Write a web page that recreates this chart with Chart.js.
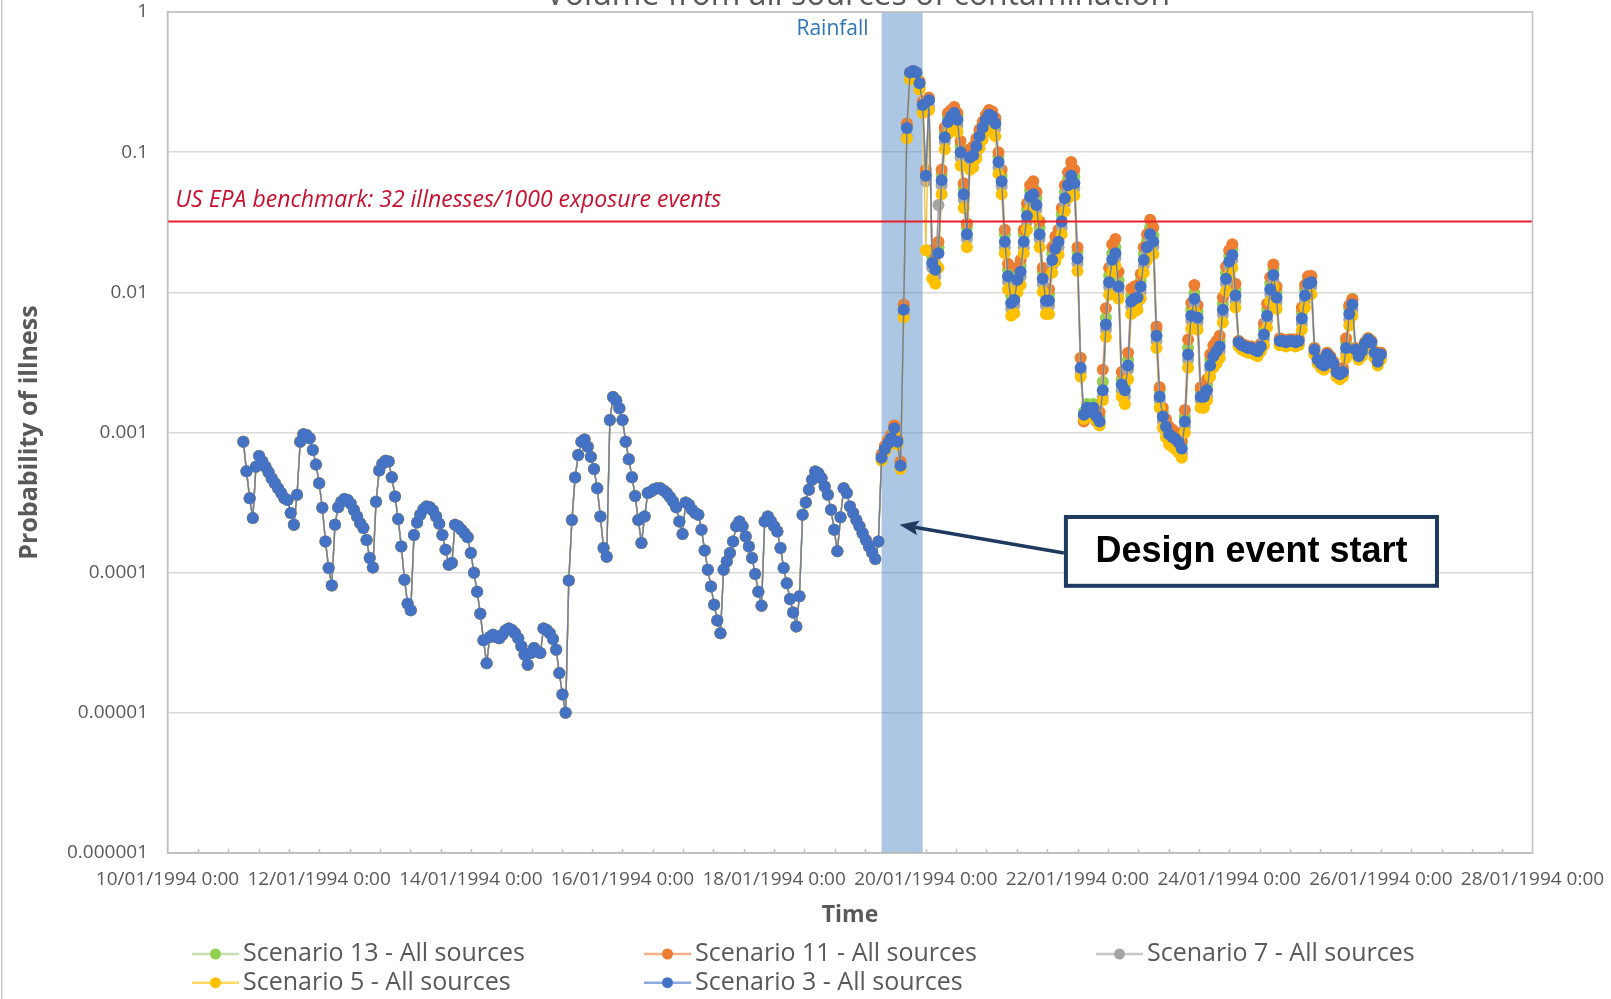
<!DOCTYPE html>
<html>
<head>
<meta charset="utf-8">
<title>Probability of illness – all sources of contamination</title>
<script src="https://cdn.jsdelivr.net/npm/chart.js@4.4.1/dist/chart.umd.min.js"></script>
<style>
  html, body { margin: 0; padding: 0; background: #ffffff; }
  #wrap { position: relative; width: 1611px; height: 999px; overflow: hidden; }
  canvas { display: block; }
</style>
</head>
<body>
<div id="wrap"><canvas id="chart" width="1611" height="999"></canvas></div>
<script>
// ---------------------------------------------------------------------------
// Chart text
// ---------------------------------------------------------------------------
const chartTitle = 'Volume from all sources of contamination';
const xAxisTitle = 'Time';
const yAxisTitle = 'Probability of illness';
const seriesLabels = [
  'Scenario 13 - All sources',
  'Scenario 11 - All sources',
  'Scenario 7 - All sources',
  'Scenario 5 - All sources',
  'Scenario 3 - All sources'
];
const xTickLabels = [
  '10/01/1994 0:00', '12/01/1994 0:00', '14/01/1994 0:00', '16/01/1994 0:00',
  '18/01/1994 0:00', '20/01/1994 0:00', '22/01/1994 0:00', '24/01/1994 0:00',
  '26/01/1994 0:00', '28/01/1994 0:00'
];
const yTickValues = [0.000001, 0.00001, 0.0001, 0.001, 0.01, 0.1, 1];
const yTickLabels = ['0.000001', '0.00001', '0.0001', '0.001', '0.01', '0.1', '1'];

// ---------------------------------------------------------------------------
// Hourly probability of illness. Hour 0 = 10/01/1994 0:00.
// Before the design event every scenario gives the same series.
// ---------------------------------------------------------------------------
const firstReadingHour = 24;

// hours 24 .. 225
const beforeEvent = [
  8.6e-4, 5.3e-4, 3.4e-4, 2.45e-4, 5.7e-4, 6.8e-4,
  6.2e-4, 5.7e-4, 5.2e-4, 4.7e-4, 4.35e-4, 4.0e-4, 3.7e-4, 3.4e-4, 3.3e-4, 2.66e-4,
  2.2e-4, 3.6e-4, 8.6e-4, 9.7e-4, 9.6e-4, 9.1e-4, 7.5e-4, 5.9e-4, 4.35e-4, 2.9e-4,
  1.67e-4, 1.08e-4, 8.1e-5, 2.2e-4, 2.93e-4, 3.2e-4, 3.35e-4, 3.3e-4, 3.1e-4, 2.8e-4,
  2.52e-4, 2.25e-4, 2.08e-4, 1.71e-4, 1.27e-4, 1.09e-4, 3.2e-4, 5.35e-4, 5.98e-4, 6.3e-4,
  6.2e-4, 4.8e-4, 3.5e-4, 2.41e-4, 1.54e-4, 8.9e-5, 6.0e-5, 5.4e-5, 1.86e-4, 2.28e-4,
  2.59e-4, 2.84e-4, 2.97e-4, 2.93e-4, 2.78e-4, 2.52e-4, 2.23e-4, 1.86e-4, 1.46e-4, 1.14e-4,
  1.17e-4, 2.2e-4, 2.14e-4, 2.02e-4, 1.91e-4, 1.79e-4, 1.38e-4, 1.0e-4, 7.3e-5, 5.1e-5,
  3.3e-5, 2.26e-5, 3.47e-5, 3.6e-5, 3.47e-5, 3.4e-5, 3.6e-5, 3.87e-5, 4.0e-5, 3.9e-5,
  3.7e-5, 3.4e-5, 2.98e-5, 2.6e-5, 2.2e-5, 2.67e-5, 2.9e-5, 2.74e-5, 2.67e-5, 4.0e-5,
  3.9e-5, 3.7e-5, 3.36e-5, 2.82e-5, 1.92e-5, 1.35e-5, 1.0e-5, 8.8e-5, 2.38e-4, 4.78e-4,
  6.9e-4, 8.6e-4, 8.9e-4, 7.9e-4, 6.7e-4, 5.5e-4, 4.0e-4, 2.52e-4, 1.5e-4, 1.3e-4,
  1.23e-3, 1.79e-3, 1.69e-3, 1.49e-3, 1.23e-3, 8.6e-4, 6.45e-4, 4.8e-4, 3.53e-4, 2.38e-4,
  1.63e-4, 2.52e-4, 3.7e-4, 3.8e-4, 3.94e-4, 4.0e-4, 4.0e-4, 3.86e-4, 3.7e-4, 3.46e-4,
  3.22e-4, 2.93e-4, 2.32e-4, 1.89e-4, 3.17e-4, 3.05e-4, 2.81e-4, 2.66e-4, 2.59e-4, 2.02e-4,
  1.44e-4, 1.05e-4, 7.97e-5, 5.9e-5, 4.56e-5, 3.7e-5, 1.05e-4, 1.2e-4, 1.38e-4, 1.67e-4,
  2.14e-4, 2.32e-4, 2.14e-4, 1.81e-4, 1.54e-4, 1.27e-4, 9.8e-5, 7.3e-5, 5.8e-5, 2.32e-4,
  2.52e-4, 2.32e-4, 2.14e-4, 1.97e-4, 1.5e-4, 1.08e-4, 8.4e-5, 6.5e-5, 5.2e-5, 4.13e-5,
  6.8e-5, 2.59e-4, 3.17e-4, 3.9e-4, 4.6e-4, 5.27e-4, 5.13e-4, 4.72e-4, 4.12e-4, 3.59e-4,
  2.81e-4, 2.02e-4, 1.42e-4, 2.49e-4, 4.0e-4, 3.7e-4, 2.97e-4, 2.66e-4, 2.38e-4, 2.14e-4,
  1.91e-4, 1.71e-4, 1.54e-4, 1.39e-4, 1.25e-4, 1.67e-4
];

// hours 226 .. 384, one array per scenario
const afterScenario13 = [
  6.8e-4, 7.8e-4, 8.5e-4, 9.4e-4, 1.1e-3, 8.8e-4, 6.0e-4, 7.9e-3, 0.155, 0.36,
  0.37, 0.36, 0.31, 0.22, 0.07, 0.235, 0.018, 0.016, 0.021, 0.069,
  0.14, 0.178, 0.195, 0.205, 0.18, 0.11, 0.055, 0.029, 0.1, 0.104,
  0.12, 0.14, 0.16, 0.18, 0.195, 0.19, 0.17, 0.093, 0.068, 0.026,
  0.0145, 0.0095, 0.0098, 0.0136, 0.0155, 0.026, 0.039, 0.053, 0.056, 0.047,
  0.029, 0.014, 0.0097, 0.0097, 0.019, 0.0228, 0.0255, 0.036, 0.052, 0.065,
  0.076, 0.067, 0.0195, 0.0034, 0.0014, 0.0016, 0.0015, 0.0016, 0.0014, 0.0013,
  0.0023, 0.0066, 0.0132, 0.019, 0.021, 0.0122, 0.0024, 0.0022, 0.0033, 0.0095,
  0.0099, 0.0101, 0.0121, 0.0188, 0.0232, 0.029, 0.0255, 0.0054, 0.002, 0.0014,
  0.0012, 0.00106, 0.00102, 0.00098, 0.00093, 0.00084, 0.0013, 0.004, 0.0075, 0.0099,
  0.0073, 0.002, 0.002, 0.0022, 0.0033, 0.0039, 0.0042, 0.0045, 0.0083, 0.0138,
  0.0182, 0.0203, 0.0105, 0.0045, 0.0043, 0.0042, 0.0041, 0.0041, 0.004, 0.0039,
  0.0042, 0.0055, 0.0075, 0.0116, 0.0146, 0.0101, 0.0046, 0.0046, 0.0045, 0.0046,
  0.0046, 0.0045, 0.0046, 0.0072, 0.0105, 0.0126, 0.013, 0.004, 0.0034, 0.0032,
  0.0031, 0.0037, 0.0035, 0.0032, 0.0028, 0.0027, 0.0028, 0.0044, 0.0077, 0.009,
  0.004, 0.0036, 0.0039, 0.0044, 0.0047, 0.0045, 0.0038, 0.0033, 0.0037
];
const afterScenario11 = [
  7.0e-4, 8.0e-4, 8.8e-4, 9.6e-4, 1.12e-3, 9.0e-4, 6.2e-4, 8.2e-3, 0.16, 0.37,
  0.38, 0.37, 0.32, 0.23, 0.075, 0.245, 0.02, 0.018, 0.023, 0.075,
  0.15, 0.19, 0.2, 0.21, 0.19, 0.12, 0.06, 0.031, 0.105, 0.11,
  0.125, 0.145, 0.165, 0.185, 0.2, 0.195, 0.175, 0.1, 0.075, 0.028,
  0.016, 0.0102, 0.0106, 0.015, 0.017, 0.028, 0.043, 0.058, 0.062, 0.052,
  0.032, 0.015, 0.0105, 0.0105, 0.021, 0.025, 0.028, 0.04, 0.058, 0.072,
  0.085, 0.075, 0.021, 0.0034, 0.0012, 0.0014, 0.0013, 0.0014, 0.0012, 0.0014,
  0.0028, 0.0077, 0.015, 0.022, 0.024, 0.014, 0.0027, 0.0025, 0.0037, 0.0106,
  0.011, 0.0112, 0.0135, 0.021, 0.026, 0.033, 0.029, 0.0057, 0.0021, 0.0015,
  0.00125, 0.0011, 0.00105, 0.001, 0.00095, 0.00088, 0.00145, 0.0046, 0.0084, 0.0113,
  0.0081, 0.0021, 0.0021, 0.0024, 0.0036, 0.0042, 0.0045, 0.0049, 0.0092, 0.0152,
  0.02, 0.022, 0.0115, 0.0045, 0.0043, 0.0042, 0.0041, 0.0041, 0.004, 0.0039,
  0.0043, 0.006, 0.0083, 0.0128, 0.0158, 0.011, 0.0047, 0.0046, 0.0045, 0.0046,
  0.0046, 0.0045, 0.0047, 0.0078, 0.0113, 0.013, 0.0131, 0.004, 0.0034, 0.0032,
  0.0031, 0.0037, 0.0035, 0.0032, 0.0028, 0.0027, 0.0029, 0.0047, 0.0081, 0.0089,
  0.004, 0.0036, 0.0039, 0.0044, 0.0047, 0.0045, 0.0038, 0.0033, 0.0037
];
const afterScenario7 = [
  6.5e-4, 7.5e-4, 8.2e-4, 9.0e-4, 1.05e-3, 8.5e-4, 5.7e-4, 7.0e-3, 0.13, 0.33,
  0.34, 0.34, 0.29, 0.2, 0.062, 0.21, 0.015, 0.013, 0.042, 0.058,
  0.118, 0.15, 0.165, 0.175, 0.155, 0.092, 0.046, 0.024, 0.085, 0.087,
  0.1, 0.12, 0.138, 0.157, 0.17, 0.165, 0.147, 0.078, 0.057, 0.021,
  0.012, 0.0077, 0.0081, 0.0113, 0.0129, 0.021, 0.032, 0.044, 0.046, 0.039,
  0.024, 0.0115, 0.008, 0.008, 0.0156, 0.0189, 0.021, 0.029, 0.043, 0.053,
  0.063, 0.055, 0.0161, 0.0027, 0.0013, 0.00145, 0.00135, 0.00145, 0.00126, 0.00116,
  0.0018, 0.0054, 0.0109, 0.0157, 0.0175, 0.0101, 0.002, 0.0018, 0.0028, 0.0079,
  0.0083, 0.0085, 0.0101, 0.0156, 0.0193, 0.024, 0.0212, 0.0045, 0.0017, 0.0012,
  0.00101, 0.00089, 0.00086, 0.00083, 0.00078, 0.00071, 0.0011, 0.0033, 0.0063, 0.0083,
  0.0061, 0.0017, 0.0017, 0.0018, 0.0028, 0.0032, 0.0035, 0.0038, 0.0069, 0.0115,
  0.0152, 0.017, 0.0087, 0.0042, 0.004, 0.0039, 0.0038, 0.0038, 0.0037, 0.0036,
  0.0039, 0.0046, 0.0063, 0.0097, 0.0122, 0.0085, 0.0043, 0.0043, 0.0042, 0.0043,
  0.0043, 0.0042, 0.0043, 0.006, 0.0087, 0.0106, 0.0109, 0.0037, 0.0032, 0.003,
  0.0029, 0.0034, 0.0032, 0.003, 0.0026, 0.0025, 0.0026, 0.0037, 0.0064, 0.0075,
  0.0037, 0.0034, 0.0036, 0.0041, 0.0044, 0.0042, 0.0036, 0.0031, 0.0035
];
const afterScenario5 = [
  6.3e-4, 7.3e-4, 8.0e-4, 8.7e-4, 1.02e-3, 8.2e-4, 5.5e-4, 6.6e-3, 0.125, 0.33,
  0.35, 0.34, 0.28, 0.19, 0.02, 0.2, 0.0125, 0.0115, 0.015, 0.05,
  0.105, 0.135, 0.15, 0.16, 0.14, 0.08, 0.04, 0.021, 0.075, 0.078,
  0.09, 0.107, 0.123, 0.14, 0.155, 0.15, 0.13, 0.07, 0.05, 0.019,
  0.0105, 0.0068, 0.0071, 0.01, 0.0113, 0.019, 0.028, 0.039, 0.041, 0.034,
  0.021, 0.0101, 0.007, 0.007, 0.0138, 0.0166, 0.0186, 0.026, 0.038, 0.047,
  0.055, 0.049, 0.0142, 0.0025, 0.00125, 0.0014, 0.0013, 0.0014, 0.00122, 0.00112,
  0.0017, 0.0048, 0.0096, 0.0139, 0.0155, 0.009, 0.0018, 0.0016, 0.0024, 0.007,
  0.0073, 0.0075, 0.009, 0.0138, 0.017, 0.021, 0.0187, 0.004, 0.0015, 0.00108,
  0.00092, 0.00082, 0.00079, 0.00076, 0.00072, 0.00066, 0.001, 0.0029, 0.0055, 0.0073,
  0.0054, 0.0015, 0.0015, 0.0017, 0.0025, 0.0029, 0.0031, 0.0034, 0.0061, 0.0102,
  0.0134, 0.015, 0.0078, 0.0041, 0.0039, 0.0038, 0.0037, 0.0037, 0.0036, 0.0035,
  0.0038, 0.0042, 0.0056, 0.0086, 0.0109, 0.0076, 0.0042, 0.0042, 0.0041, 0.0042,
  0.0042, 0.0041, 0.0042, 0.0054, 0.0078, 0.0094, 0.0097, 0.0036, 0.0031, 0.0029,
  0.0028, 0.0033, 0.0031, 0.0029, 0.0025, 0.0024, 0.0025, 0.0034, 0.0058, 0.0068,
  0.0036, 0.0033, 0.0035, 0.004, 0.0043, 0.0041, 0.0034, 0.003, 0.0033
];
const afterScenario3 = [
  6.6e-4, 7.6e-4, 8.3e-4, 9.1e-4, 1.07e-3, 8.6e-4, 5.8e-4, 7.5e-3, 0.149, 0.37,
  0.38, 0.37, 0.31, 0.217, 0.068, 0.235, 0.0162, 0.0145, 0.019, 0.063,
  0.128, 0.164, 0.18, 0.19, 0.17, 0.10, 0.05, 0.026, 0.092, 0.095,
  0.11, 0.13, 0.15, 0.17, 0.185, 0.18, 0.16, 0.085, 0.062, 0.023,
  0.013, 0.0084, 0.0088, 0.0123, 0.014, 0.023, 0.035, 0.048, 0.05, 0.042,
  0.026, 0.0125, 0.0087, 0.0087, 0.017, 0.0205, 0.023, 0.032, 0.047, 0.058,
  0.068, 0.06, 0.0175, 0.0029, 0.00134, 0.0015, 0.0014, 0.0015, 0.0013, 0.0012,
  0.002, 0.0059, 0.0118, 0.0171, 0.019, 0.011, 0.0022, 0.002, 0.003, 0.0086,
  0.009, 0.0092, 0.011, 0.017, 0.021, 0.026, 0.023, 0.0049, 0.0018, 0.0013,
  0.0011, 0.00097, 0.00093, 0.0009, 0.00085, 0.00077, 0.0012, 0.0036, 0.0068, 0.009,
  0.0066, 0.0018, 0.0018, 0.002, 0.003, 0.0035, 0.0038, 0.0041, 0.0075, 0.0125,
  0.0165, 0.0185, 0.0095, 0.0044, 0.0042, 0.0041, 0.004, 0.004, 0.0039, 0.0038,
  0.0041, 0.005, 0.0068, 0.0105, 0.0133, 0.0092, 0.0045, 0.0045, 0.0044, 0.0045,
  0.0045, 0.0044, 0.0045, 0.0065, 0.0095, 0.0115, 0.0118, 0.0039, 0.0033, 0.0031,
  0.003, 0.0036, 0.0034, 0.0031, 0.0027, 0.0026, 0.0027, 0.004, 0.007, 0.0082,
  0.0039, 0.0035, 0.0038, 0.0043, 0.0046, 0.0044, 0.0037, 0.0032, 0.0036
];

// Rainfall period (hours after 10/01/1994 0:00) and the illness benchmark
const rainfallHours = [226, 239];
const rainfallLabel = 'Rainfall';
const benchmarkValue = 32 / 1000;
const benchmarkLabel = 'US EPA benchmark: 32 illnesses/1000 exposure events';
const eventLabel = 'Design event start';

// ---------------------------------------------------------------------------
// Styling
// ---------------------------------------------------------------------------
const uiFont = '"Open Sans", "Liberation Sans", sans-serif';
const textGrey = '#595959';
const markerColors = ['#92D050', '#ED7D31', '#A5A5A5', '#FFC000', '#4472C4'];
const lineColors = ['#A9D37C', '#E9A270', '#9A9A9A', '#EDC24A', '#6B80A8'];
const legendLineColors = ['#C5E0B4', '#F4B183', '#C9C9C9', '#FFD966', '#8FAADC'];

// Pointer from the annotation box to the start of the design event
const eventPointer = {
  tipHour: 231.7, tipValue: 2.2e-4,
  boxHours: [283.7, 402.4], boxValues: [2.58e-4, 7.8e-5],
  tailValue: 1.38e-4
};

const seriesValues = [
  beforeEvent.concat(afterScenario13),
  beforeEvent.concat(afterScenario11),
  beforeEvent.concat(afterScenario7),
  beforeEvent.concat(afterScenario5),
  beforeEvent.concat(afterScenario3)
];

const datasets = seriesLabels.map((label, i) => ({
  label,
  data: seriesValues[i].map((v, k) => ({ x: firstReadingHour + k, y: v })),
  borderColor: lineColors[i],
  borderWidth: 1.4,
  pointRadius: 6,
  pointBorderWidth: 0,
  pointBackgroundColor: markerColors[i],
  pointBorderColor: markerColors[i],
  tension: 0,
  // later scenarios in the list are painted over earlier ones
  order: seriesLabels.length - 1 - i
}));

// The plot rectangle is fixed by the layout padding and axis sizes alone;
// tick labels may spill into the margins.
function fixAxisBox(scale, size) {
  if (scale.isHorizontal()) scale.height = size; else scale.width = size;
  scale.paddingTop = 0;
  scale.paddingBottom = 0;
  scale.paddingLeft = 0;
  scale.paddingRight = 0;
}

const decorations = {
  id: 'decorations',
  beforeDatasetsDraw(chart) {
    const { ctx, chartArea: a, scales: { x } } = chart;
    const x0 = x.getPixelForValue(rainfallHours[0]);
    const x1 = x.getPixelForValue(rainfallHours[1]);
    ctx.save();
    ctx.fillStyle = 'rgba(72,133,196,0.46)';
    ctx.fillRect(x0, a.top, x1 - x0, a.bottom - a.top);
    ctx.restore();
  },
  afterDatasetsDraw(chart) {
    const { ctx, chartArea: a, scales: { x, y } } = chart;
    const yb = y.getPixelForValue(benchmarkValue);
    ctx.save();
    ctx.strokeStyle = '#E8202A';
    ctx.lineWidth = 2;
    ctx.beginPath();
    ctx.moveTo(a.left, yb);
    ctx.lineTo(a.right, yb);
    ctx.stroke();
    ctx.fillStyle = '#C8102E';
    ctx.font = 'italic 23px ' + uiFont;
    ctx.textAlign = 'left';
    ctx.textBaseline = 'alphabetic';
    ctx.fillText(benchmarkLabel, a.left + 8, yb - 15);

    ctx.fillStyle = '#2E75B6';
    ctx.font = '21px ' + uiFont;
    ctx.textAlign = 'right';
    ctx.textBaseline = 'middle';
    ctx.fillText(rainfallLabel, x.getPixelForValue(rainfallHours[0]) - 13, a.top + 17);
    ctx.restore();
  },
  afterDraw(chart) {
    const { ctx, chartArea: a, scales: { x, y } } = chart;
    ctx.save();

    // plot frame and inward minor ticks every 0.4 day
    ctx.strokeStyle = '#BFBFBF';
    ctx.lineWidth = 1.5;
    ctx.strokeRect(a.left, a.top, a.right - a.left, a.bottom - a.top);
    ctx.beginPath();
    for (let t = 9.6; t < 432 - 1; t += 9.6) {
      const px = Math.round(x.getPixelForValue(t)) + 0.5;
      ctx.moveTo(px, a.bottom);
      ctx.lineTo(px, a.bottom - 4);
    }
    ctx.stroke();

    // outer edge of the chart
    ctx.fillStyle = '#C8C8C8';
    ctx.fillRect(1, 0, 1.5, chart.height);

    // chart title (runs off the top edge)
    ctx.fillStyle = textGrey;
    ctx.font = '32px ' + uiFont;
    ctx.textAlign = 'center';
    ctx.textBaseline = 'alphabetic';
    ctx.fillText(chartTitle, 858, 5);

    // design-event pointer and box
    const navy = '#1F3A5F';
    const tipX = x.getPixelForValue(eventPointer.tipHour);
    const tipY = y.getPixelForValue(eventPointer.tipValue);
    const bx0 = x.getPixelForValue(eventPointer.boxHours[0]);
    const bx1 = x.getPixelForValue(eventPointer.boxHours[1]);
    const by0 = y.getPixelForValue(eventPointer.boxValues[0]);
    const by1 = y.getPixelForValue(eventPointer.boxValues[1]);
    const tailY = y.getPixelForValue(eventPointer.tailValue);

    const ang = Math.atan2(tailY - tipY, bx0 - tipX);
    const headLen = 19, headHalf = 7.5;
    const baseX = tipX + Math.cos(ang) * headLen * 0.8;
    const baseY = tipY + Math.sin(ang) * headLen * 0.8;
    ctx.strokeStyle = navy;
    ctx.lineWidth = 3.5;
    ctx.beginPath();
    ctx.moveTo(bx0, tailY);
    ctx.lineTo(baseX, baseY);
    ctx.stroke();
    ctx.fillStyle = navy;
    ctx.beginPath();
    ctx.moveTo(tipX, tipY);
    ctx.lineTo(tipX + Math.cos(ang) * headLen - Math.sin(ang) * headHalf,
               tipY + Math.sin(ang) * headLen + Math.cos(ang) * headHalf);
    ctx.lineTo(baseX, baseY);
    ctx.lineTo(tipX + Math.cos(ang) * headLen + Math.sin(ang) * headHalf,
               tipY + Math.sin(ang) * headLen - Math.cos(ang) * headHalf);
    ctx.closePath();
    ctx.fill();

    ctx.fillStyle = '#ffffff';
    ctx.fillRect(bx0, by0, bx1 - bx0, by1 - by0);
    ctx.strokeStyle = navy;
    ctx.lineWidth = 4;
    ctx.strokeRect(bx0 + 2, by0 + 2, bx1 - bx0 - 4, by1 - by0 - 4);
    ctx.fillStyle = '#000000';
    ctx.font = 'bold 36px "Liberation Sans", Arial, sans-serif';
    ctx.textAlign = 'center';
    ctx.textBaseline = 'middle';
    ctx.fillText(eventLabel, (bx0 + bx1) / 2, (by0 + by1) / 2 + 1);

    // legend: three columns, two rows
    ctx.font = '25px ' + uiFont;
    ctx.textAlign = 'left';
    ctx.textBaseline = 'middle';
    chart.data.datasets.forEach((ds, i) => {
      const col = i % 3, row = Math.floor(i / 3);
      const lx = 192 + col * 452;
      const ly = 954 + row * 28.7;
      ctx.strokeStyle = legendLineColors[i];
      ctx.lineWidth = 2.5;
      ctx.beginPath();
      ctx.moveTo(lx, ly);
      ctx.lineTo(lx + 47, ly);
      ctx.stroke();
      ctx.fillStyle = markerColors[i];
      ctx.beginPath();
      ctx.arc(lx + 23.5, ly, 5.5, 0, Math.PI * 2);
      ctx.fill();
      ctx.fillStyle = textGrey;
      ctx.fillText(ds.label, lx + 51, ly);
    });
    ctx.restore();
  }
};

new Chart(document.getElementById('chart'), {
  type: 'line',
  data: { datasets },
  options: {
    responsive: false,
    animation: false,
    devicePixelRatio: 1,
    events: [],
    layout: { autoPadding: false, padding: { top: 12, right: 78.5, bottom: 0, left: 0 } },
    plugins: {
      legend: { display: false },
      title: { display: false },
      tooltip: { enabled: false }
    },
    scales: {
      x: {
        type: 'linear',
        min: 0,
        max: 432,
        afterFit(scale) { fixAxisBox(scale, 146); },
        grid: { display: false, drawTicks: false },
        border: { display: true, color: '#BFBFBF', width: 1.5 },
        ticks: {
          stepSize: 48,
          autoSkip: false,
          maxRotation: 0,
          minRotation: 0,
          padding: 15,
          color: textGrey,
          font: { family: uiFont, size: 19 },
          callback: (v, i) => xTickLabels[i]
        },
        title: {
          display: true,
          text: xAxisTitle,
          color: textGrey,
          font: { family: uiFont, size: 23, weight: 'bold' },
          padding: { top: 0, bottom: 70 }
        }
      },
      y: {
        type: 'logarithmic',
        min: 0.000001,
        max: 1,
        afterFit(scale) { fixAxisBox(scale, 167.5); },
        afterBuildTicks(scale) { scale.ticks = yTickValues.map(v => ({ value: v })); },
        grid: { color: '#D9D9D9', lineWidth: 1.5, drawTicks: false },
        border: { display: true, color: '#BFBFBF', width: 1.5 },
        ticks: {
          padding: 19.5,
          color: textGrey,
          font: { family: uiFont, size: 19 },
          callback: (v, i) => yTickLabels[i]
        },
        title: {
          display: true,
          text: yAxisTitle,
          color: textGrey,
          font: { family: uiFont, size: 25, weight: 'bold' },
          padding: { top: 15, bottom: 0 }
        }
      }
    }
  },
  plugins: [decorations]
});
</script>
</body>
</html>
